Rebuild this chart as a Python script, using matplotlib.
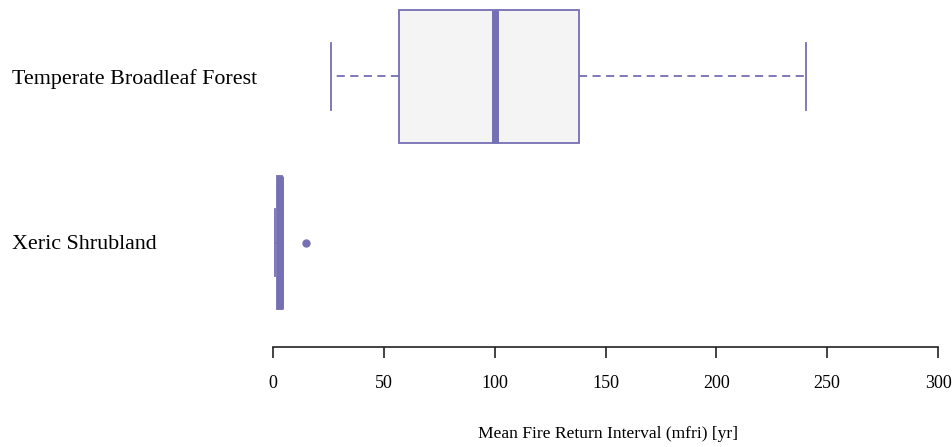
import matplotlib.pyplot as plt

# ---------- DATA ----------
groups = ["Xeric Shrubland", "Temperate Broadleaf Forest"]
whislo = [0.9, 26]
q1 = [1.9, 56.7]
med = [3.0, 100.0]
q3 = [4.0, 138.0]
whishi = [4.0, 240.5]
fliers = [[15.0], []]
xticks = [0, 50, 100, 150, 200, 250, 300]

BOX_COLOR = "#7570B3"
FILL = "#F4F4F4"

plt.rcParams["font.family"] = ["Liberation Serif", "DejaVu Serif"]

fig = plt.figure(figsize=(9.52, 4.47), dpi=100)
W, H = 952, 447
# axes: x 0..300 -> px 273..938, y 0.5..2.5 -> px 326..-7
ax = fig.add_axes([273 / W, (H - 326) / H, 665 / W, 333 / H])

stats = []
for i in range(len(groups)):
    stats.append(dict(whislo=whislo[i], q1=q1[i], med=med[i], q3=q3[i],
                      whishi=whishi[i], fliers=fliers[i], label=groups[i]))

ax.bxp(stats, positions=[1, 2], vert=False, widths=0.8, patch_artist=True,
       boxprops=dict(facecolor=FILL, edgecolor=BOX_COLOR, linewidth=1.3),
       medianprops=dict(color=BOX_COLOR, linewidth=5, solid_capstyle="butt"),
       whiskerprops=dict(color=BOX_COLOR, linewidth=1.3, linestyle=(0, (4.5, 3))),
       capprops=dict(color=BOX_COLOR, linewidth=1.3),
       capwidths=0.4,
       flierprops=dict(marker="o", markerfacecolor=BOX_COLOR,
                       markeredgecolor=BOX_COLOR, markersize=5))

ax.set_xlim(0, 300)
ax.set_ylim(0.5, 2.5)

for s in ["top", "right", "left"]:
    ax.spines[s].set_visible(False)
ax.spines["bottom"].set_position(("outward", 15))
ax.spines["bottom"].set_color("#222222")
ax.spines["bottom"].set_linewidth(1.2)

ax.set_xticks(xticks)
ax.set_xticklabels([str(t) for t in xticks])
ax.tick_params(axis="x", direction="out", length=8, width=1.2, color="#222222",
               labelsize=13, pad=12.5)
ax.set_yticks([])

for i, g in enumerate(groups):
    fig.text(12 / W, 1 - (245 - i * 166) / H, g, fontsize=15.8,
             ha="left", va="center")

fig.text(608 / W, 1 - 434 / H, "Mean Fire Return Interval (mfri) [yr]",
         fontsize=12.6, ha="center", va="center")

fig.savefig("out.png", dpi=100)
